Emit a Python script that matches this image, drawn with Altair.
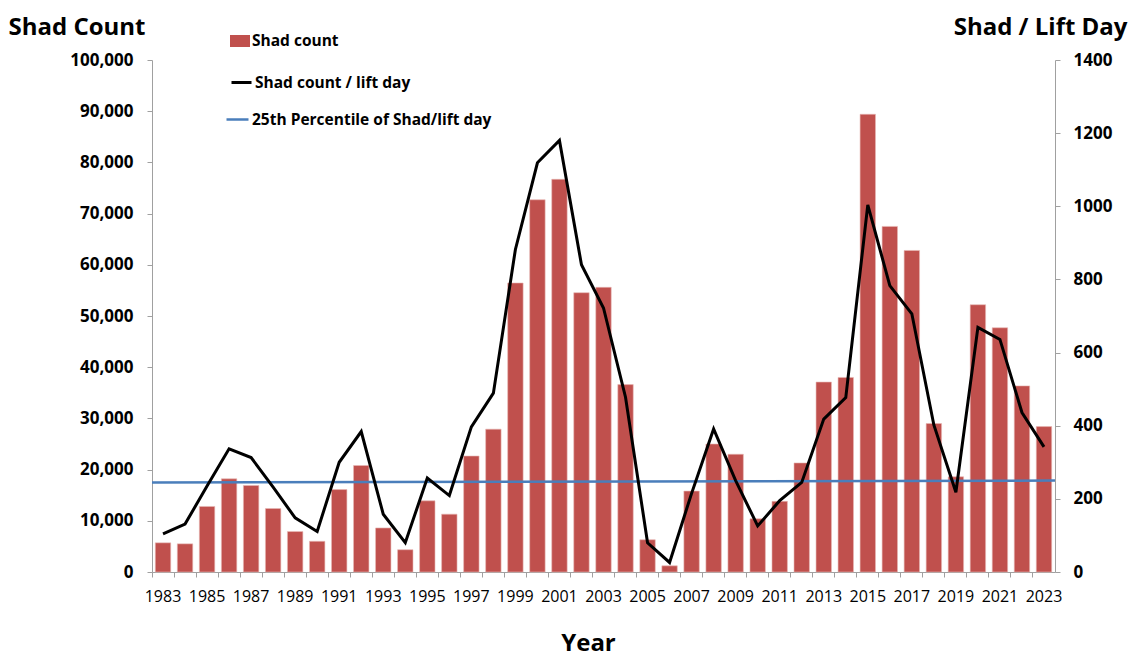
import altair as alt
import pandas as pd

# ---- data ----
years = list(range(1983, 2024))
shad_count = [5700, 5500, 12800, 18200, 16900, 12400, 7900, 6000, 16100, 20800,
              8600, 4350, 13900, 11300, 22650, 27900, 56450, 72700, 76700, 54550,
              55600, 36600, 6300, 1200, 15800, 25000, 23000, 10400, 13800, 21300,
              37100, 38000, 89400, 67500, 62800, 29000, 18600, 52200, 47700, 36350,
              28400]
shad_per_lift_day = [104, 131, 235, 337, 313, 232, 148, 111, 300, 384,
                     158, 80, 257, 209, 397, 489, 882, 1119, 1180, 840,
                     722, 478, 80, 26, 215, 391, 250, 126, 195, 245,
                     418, 477, 1004, 783, 706, 402, 218, 669, 636, 436,
                     342]
pct25_start = [244.5]
pct25_end = [250.0]

series_names = ["Shad count", "Shad count / lift day", "25th Percentile of Shad/lift day"]
series_colors = ["#c0504d", "#000000", "#4a7ebb"]

left_ticks = list(range(0, 100001, 10000))
right_ticks = list(range(0, 1401, 200))

W, H = 903, 512
FONT = "Open Sans"
GRAY = "#a0a0a0"

bar_df = pd.DataFrame({"Year": years, "Count": shad_count, "series": series_names[0]})
line_df = pd.DataFrame({"Year": years, "PerDay": shad_per_lift_day, "series": series_names[1]})
pct_df = pd.DataFrame({"start": pct25_start, "end": pct25_end, "series": series_names[2]})

x_enc = alt.X(
    "Year:O",
    scale=alt.Scale(paddingInner=0.3, paddingOuter=0.15),
    axis=alt.Axis(
        title="Year", labelAngle=0,
        labelExpr="datum.value % 2 == 1 ? datum.label : ''",
        bandPosition=-0.214, tickSize=5, labelPadding=11,
        labelFont=FONT, labelFontSize=16, labelColor="black",
        domainColor=GRAY, tickColor=GRAY, grid=False,
        titleFont=FONT, titleFontSize=24, titleFontWeight="bold", titleColor="black",
        titleX=436, titleY=78, titleAlign="center", titleBaseline="alphabetic",
    ),
)


def legend(x, y, symbol, size, sw):
    return alt.Legend(
        title=None, orient="none", legendX=x, legendY=y, padding=0,
        symbolType=symbol, symbolSize=size, symbolStrokeWidth=sw,
        labelFont=FONT, labelFontSize=15.5, labelFontWeight="bold",
        labelColor="black", labelOffset=2, labelLimit=400,
    )


bars = alt.Chart(bar_df).mark_bar(stroke="#e8b8b6", strokeWidth=0.6).encode(
    x=x_enc,
    y=alt.Y(
        "Count:Q",
        scale=alt.Scale(domain=[0, 100000], nice=False),
        axis=alt.Axis(
            values=left_ticks, format=",d", grid=False, tickSize=5, labelPadding=14,
            labelFont=FONT, labelFontSize=17, labelFontWeight="bold", labelColor="black",
            domainColor=GRAY, tickColor=GRAY,
            title="Shad Count", titleAngle=0, titleX=-144, titleY=-26,
            titleAlign="left", titleBaseline="alphabetic",
            titleFont=FONT, titleFontSize=24, titleFontWeight="bold", titleColor="black",
        ),
    ),
    color=alt.Color(
        "series:N",
        scale=alt.Scale(domain=[series_names[0]], range=[series_colors[0]]),
        legend=legend(78, -29, "M-1,-0.6H1V0.6H-1Z", 400, 0),
    ),
)

pct_rule = alt.Chart(pct_df).mark_rule(strokeWidth=2.5).encode(
    x=alt.value(0),
    x2=alt.value(W),
    y=alt.Y("start:Q", scale=alt.Scale(domain=[0, 1400], nice=False), axis=None),
    y2="end:Q",
    color=alt.Color(
        "series:N",
        scale=alt.Scale(domain=[series_names[2]], range=[series_colors[2]]),
        legend=legend(73, 47, "stroke", 484, 2.5),
    ),
)

line = alt.Chart(line_df).mark_line(strokeWidth=3).encode(
    x=x_enc,
    y=alt.Y(
        "PerDay:Q",
        scale=alt.Scale(domain=[0, 1400], nice=False),
        axis=alt.Axis(
            orient="right", values=right_ticks, format="d", grid=False, tickSize=5,
            labelPadding=13,
            labelFont=FONT, labelFontSize=17, labelFontWeight="bold", labelColor="black",
            domainColor=GRAY, tickColor=GRAY,
            title="Shad / Lift Day", titleAngle=0, titleX=72, titleY=-26,
            titleAlign="right", titleBaseline="alphabetic",
            titleFont=FONT, titleFontSize=24, titleFontWeight="bold", titleColor="black",
        ),
    ),
    color=alt.Color(
        "series:N",
        scale=alt.Scale(domain=[series_names[1]], range=[series_colors[1]]),
        legend=legend(78, 11, "stroke", 400, 3),
    ),
)

chart = (
    alt.layer(bars, pct_rule, line)
    .resolve_scale(y="independent", color="independent")
    .properties(
        width=W, height=H,
        padding={"left": 144, "top": 52, "right": 73, "bottom": 86},
        autosize=alt.AutoSizeParams(type="none"),
        background="white",
    )
    .configure_view(stroke=None)
)

chart.save("out.html", embed_options={"renderer": "svg", "actions": False})
